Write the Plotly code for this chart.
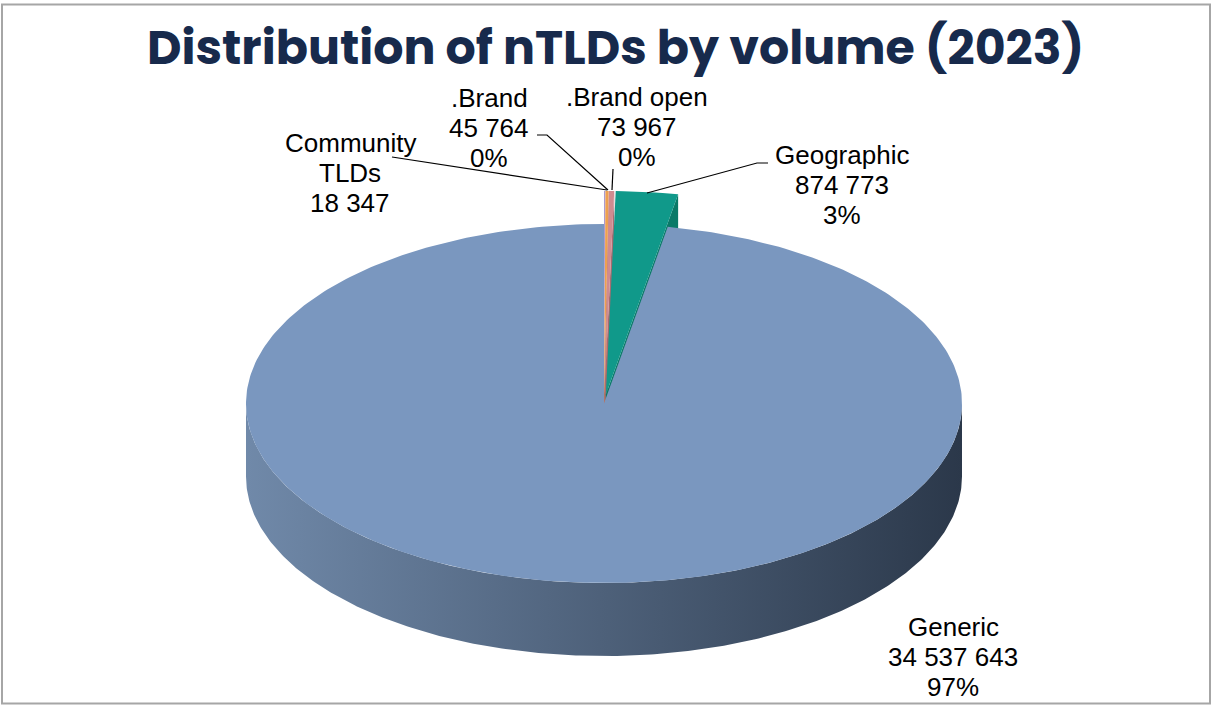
import numpy as np
import plotly.graph_objects as go

# ---------------- data ----------------
categories = ["Community TLDs", ".Brand", ".Brand open", "Geographic", "Generic"]
volumes = [18347, 45764, 73967, 874773, 34537643]
value_labels = ["18 347", "45 764", "73 967", "874 773", "34 537 643"]
pct_labels = ["", "0%", "0%", "3%", "97%"]
name_lines = [["Community", "TLDs"], [".Brand"], [".Brand open"], ["Geographic"], ["Generic"]]
exploded = [True, True, True, True, False]

title_text = "Distribution of nTLDs by volume (2023)"

# ---------------- styles / layout ----------------
top_colors = ["#a99bd0", "#eea050", "#cf8b90", "#10998a", "#7a97bf"]
side_colors = ["#8a7db0", "#c47f38", "#a86c71", "#0a7a68", None]
side_gradient = [[0, "#7089a9"], [1, "#2b384a"]]

W, H = 1212, 705
cx, cy, rx, ry, depth = 604.0, 403.5, 358.0, 179.5, 73.0
apex_shift, rim_scale = 0.05, 1.134

label_pos = {  # centre x, y of first line
    "Community TLDs": (350, 143),
    ".Brand": (489, 98),
    ".Brand open": (637, 97),
    "Geographic": (842, 155),
    "Generic": (953, 627),
}
line_step = 30
leaders = {
    "Community TLDs": [(392, 157), (607, 190)],
    ".Brand": [(537, 135), (547, 135), (608, 190)],
    ".Brand open": [(613, 169), (612, 190)],
    "Geographic": [(647, 193), (757, 163), (768, 163)],
}

# ---------------- geometry from values ----------------
vals = np.array(volumes, dtype=float)
frac = vals / vals.sum()
cum = np.concatenate([[0.0], np.cumsum(frac)]) * 2 * np.pi


def ell(theta, s=1.0, ox=0.0, oy=0.0, dz=0.0):
    theta = np.asarray(theta)
    return cx + ox + s * rx * np.sin(theta), cy + oy - s * ry * np.cos(theta) + dz


fig = go.Figure()
side_traces, top_traces, front_traces = [], [], []

for i, cat in enumerate(categories):
    t1, t2 = cum[i], cum[i + 1]
    mid = 0.5 * (t1 + t2)
    if exploded[i]:
        ox = apex_shift * rx * np.sin(mid)
        oy = -apex_shift * ry * np.cos(mid)
        s = rim_scale
    else:
        ox, oy, s = 0.0, 0.0, 1.0
    ax_, ay_ = cx + ox, cy + oy
    ts = np.linspace(t1, t2, max(4, int((t2 - t1) / (2 * np.pi) * 400)))
    xs, ys = ell(ts, s, ox, oy)
    top_x = np.concatenate([[ax_], xs, [ax_]])
    top_y = np.concatenate([[ay_], ys, [ay_]])
    top = go.Scatter(x=top_x, y=top_y, mode="lines", fill="toself",
                     fillcolor=top_colors[i], line=dict(width=0, color=top_colors[i]),
                     hoverinfo="skip", showlegend=False)
    if exploded[i]:
        rx2, ry2 = ell(t2, s, ox, oy)
        face = go.Scatter(x=[ax_, float(rx2), float(rx2), ax_, ax_],
                          y=[ay_, float(ry2), float(ry2) + depth, ay_ + depth, ay_],
                          mode="lines", fill="toself", fillcolor=side_colors[i],
                          line=dict(width=0, color=side_colors[i]),
                          hoverinfo="skip", showlegend=False)
        side_traces.append(face)
        top_traces.append(top)
    else:
        a = max(t1, np.pi / 2)
        b = min(t2, 3 * np.pi / 2)
        if b > a:
            tt = np.linspace(a, b, 300)
            ux, uy = ell(tt)
            lx, ly = ell(tt[::-1], dz=depth)
            front_traces.append(go.Scatter(
                x=np.concatenate([ux, lx, ux[:1]]), y=np.concatenate([uy, ly, uy[:1]]),
                mode="lines", fill="toself",
                fillgradient=dict(type="horizontal", colorscale=side_gradient),
                line=dict(width=0, color="rgba(0,0,0,0)"),
                hoverinfo="skip", showlegend=False))
        front_traces.append(top)

for t in side_traces + top_traces + front_traces:
    fig.add_trace(t)

# leader lines
for cat, pts in leaders.items():
    fig.add_trace(go.Scatter(x=[p[0] for p in pts], y=[p[1] for p in pts], mode="lines",
                             line=dict(color="#000000", width=1.2),
                             hoverinfo="skip", showlegend=False))

# data labels
annotations = []
for i, cat in enumerate(categories):
    lines = list(name_lines[i]) + [value_labels[i]]
    if pct_labels[i]:
        lines.append(pct_labels[i])
    x0, y0 = label_pos[cat]
    for k, ln in enumerate(lines):
        annotations.append(dict(x=x0, y=y0 + k * line_step, xref="x", yref="y", text=ln,
                                showarrow=False, xanchor="center", yanchor="middle",
                                font=dict(family="Liberation Sans, Arial", size=26, color="#000000")))

annotations.append(dict(x=615, y=47, xref="x", yref="y", text=title_text, showarrow=False,
                        xanchor="center", yanchor="middle",
                        font=dict(family="Poppins, Inter, sans-serif", size=47.5,
                                  color="#172a4c", weight=700)))

fig.update_layout(
    width=W, height=H, margin=dict(l=0, r=0, t=0, b=0, pad=0),
    paper_bgcolor="#ffffff", plot_bgcolor="#ffffff",
    xaxis=dict(range=[0, W], visible=False, fixedrange=True),
    yaxis=dict(range=[H, 0], visible=False, fixedrange=True),
    annotations=annotations,
    shapes=[dict(type="rect", xref="x", yref="y", x0=2, y0=4.5, x1=1210, y1=703.5,
                 line=dict(color="#a6a6a6", width=2), fillcolor="rgba(0,0,0,0)", layer="below")],
    showlegend=False,
)

fig.write_html("out.html")
